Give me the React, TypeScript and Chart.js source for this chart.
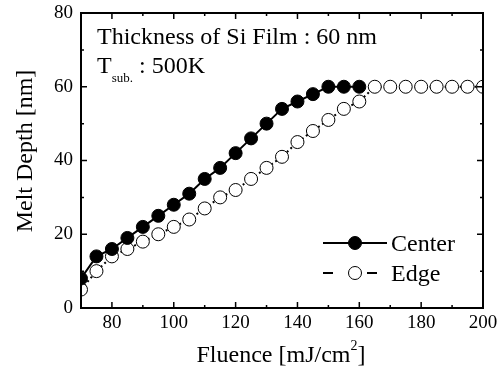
import React, { useEffect, useRef } from 'react';
import { Chart, registerables } from 'chart.js';

Chart.register(...registerables);

const fluenceCenter = [70, 75, 80, 85, 90, 95, 100, 105, 110, 115, 120, 125, 130, 135, 140, 145, 150, 155, 160];
const depthCenter = [8, 14, 16, 19, 22, 25, 28, 31, 35, 38, 42, 46, 50, 54, 56, 58, 60, 60, 60];
const fluenceEdge = [70, 75, 80, 85, 90, 95, 100, 105, 110, 115, 120, 125, 130, 135, 140, 145, 150, 155, 160, 165, 170, 175, 180, 185, 190, 195, 200];
const depthEdge = [5, 10, 14, 16, 18, 20, 22, 24, 27, 30, 32, 35, 38, 41, 45, 48, 51, 54, 56, 60, 60, 60, 60, 60, 60, 60, 60];
const xTickLabels = [80, 100, 120, 140, 160, 180, 200];
const yTickLabels = [0, 20, 40, 60, 80];
const seriesNames = ['Center', 'Edge'];
const titleLine1 = 'Thickness of Si Film : 60 nm';
const titleLine2 = ['T', 'sub.', ': 500K'];
const xTitle = ['Fluence [mJ/cm', '2', ']'];
const yTitle = 'Melt Depth [nm]';

const FONT = '"Liberation Serif", "Times New Roman", serif';

const decorPlugin = {
  id: 'decor',
  afterDraw(chart: any) {
    const ctx = chart.ctx;
    const a = chart.chartArea;
    const xs = chart.scales.x;
    const ys = chart.scales.y;
    ctx.save();
    // frame
    ctx.strokeStyle = '#000';
    ctx.lineWidth = 2;
    ctx.strokeRect(a.left, a.top, a.right - a.left, a.bottom - a.top);
    // inward ticks
    ctx.lineWidth = 1.5;
    ctx.beginPath();
    xs.ticks.forEach((t: any) => {
      const px = xs.getPixelForValue(t.value);
      const len = xTickLabels.includes(t.value) ? 6 : 3;
      ctx.moveTo(px, a.bottom);
      ctx.lineTo(px, a.bottom - len);
      ctx.moveTo(px, a.top);
      ctx.lineTo(px, a.top + len);
    });
    ys.ticks.forEach((t: any) => {
      const py = ys.getPixelForValue(t.value);
      const len = yTickLabels.includes(t.value) ? 6 : 3;
      ctx.moveTo(a.left, py);
      ctx.lineTo(a.left + len, py);
      ctx.moveTo(a.right, py);
      ctx.lineTo(a.right - len, py);
    });
    ctx.stroke();

    ctx.fillStyle = '#000';
    ctx.textBaseline = 'alphabetic';
    ctx.textAlign = 'left';
    // annotation text
    ctx.font = `24px ${FONT}`;
    ctx.fillText(titleLine1, 97, 44);
    let x = 97;
    ctx.fillText(titleLine2[0], x, 73);
    x += ctx.measureText(titleLine2[0]).width;
    ctx.font = `13px ${FONT}`;
    ctx.fillText(titleLine2[1], x, 82);
    x += ctx.measureText(titleLine2[1]).width;
    ctx.font = `24px ${FONT}`;
    x += ctx.measureText(' ').width;
    ctx.fillText(titleLine2[2], x, 73);

    // x title
    ctx.font = `24px ${FONT}`;
    const w0 = ctx.measureText(xTitle[0]).width;
    ctx.font = `14px ${FONT}`;
    const w1 = ctx.measureText(xTitle[1]).width;
    ctx.font = `24px ${FONT}`;
    const w2 = ctx.measureText(xTitle[2]).width;
    let tx = 281 - (w0 + w1 + w2) / 2;
    const ty = 362;
    ctx.fillText(xTitle[0], tx, ty);
    tx += w0;
    ctx.font = `14px ${FONT}`;
    ctx.fillText(xTitle[1], tx, ty - 12);
    tx += w1;
    ctx.font = `24px ${FONT}`;
    ctx.fillText(xTitle[2], tx, ty);

    // y title
    ctx.save();
    ctx.translate(32, 151);
    ctx.rotate(-Math.PI / 2);
    ctx.textAlign = 'center';
    ctx.fillText(yTitle, 0, 0);
    ctx.restore();

    // legend
    const ds = chart.data.datasets;
    const rows = [243, 273];
    rows.forEach((ly, i) => {
      const d = ds[i];
      ctx.strokeStyle = d.borderColor;
      ctx.lineWidth = 2;
      ctx.beginPath();
      if (i === 0) {
        ctx.moveTo(323, ly);
        ctx.lineTo(387, ly);
      } else {
        ctx.moveTo(323, ly);
        ctx.lineTo(333, ly);
        ctx.moveTo(367, ly);
        ctx.lineTo(377, ly);
      }
      ctx.stroke();
      ctx.beginPath();
      ctx.arc(355, ly, d.pointRadius, 0, Math.PI * 2);
      ctx.fillStyle = d.pointBackgroundColor;
      ctx.fill();
      ctx.lineWidth = d.pointBorderWidth;
      ctx.strokeStyle = d.pointBorderColor;
      ctx.stroke();
      ctx.fillStyle = '#000';
      ctx.font = `24px ${FONT}`;
      ctx.textAlign = 'left';
      ctx.fillText(seriesNames[i], 391, ly + 8);
    });
    ctx.restore();
  },
};

export default function App() {
  const ref = useRef<HTMLCanvasElement | null>(null);
  useEffect(() => {
    if (!ref.current) return;
    const chart = new Chart(ref.current, {
      type: 'line',
      data: {
        datasets: [
          {
            label: seriesNames[0],
            data: fluenceCenter.map((f, i) => ({ x: f, y: depthCenter[i] })),
            borderColor: '#000',
            borderWidth: 2,
            pointRadius: 6.5,
            pointBackgroundColor: '#000',
            pointBorderColor: '#000',
            pointBorderWidth: 1,
            clip: 0,
          } as any,
          {
            label: seriesNames[1],
            data: fluenceEdge.map((f, i) => ({ x: f, y: depthEdge[i] })),
            borderColor: '#000',
            borderWidth: 2,
            borderDash: [2, 3],
            pointRadius: 6.5,
            pointBackgroundColor: '#fff',
            pointBorderColor: '#000',
            pointBorderWidth: 1,
            clip: 0,
          } as any,
        ],
      },
      options: {
        animation: false,
        responsive: false,
        maintainAspectRatio: false,
        layout: { padding: { top: 13, right: 15, left: 0, bottom: 0 } },
        plugins: { legend: { display: false }, tooltip: { enabled: false } },
        scales: {
          x: {
            type: 'linear',
            min: 70,
            max: 200,
            grid: { display: false, drawTicks: false },
            border: { display: false },
            ticks: {
              stepSize: 10,
              autoSkip: false,
              maxRotation: 0,
              padding: 4,
              color: '#000',
              font: { family: FONT, size: 19 },
              callback: (v: any) => (xTickLabels.includes(v) ? String(v) : ''),
            },
            afterFit: (s: any) => {
              s.height = 63;
              s.paddingLeft = 0;
              s.paddingRight = 0;
            },
          },
          y: {
            type: 'linear',
            min: 0,
            max: 80,
            grid: { display: false, drawTicks: false },
            border: { display: false },
            ticks: {
              stepSize: 10,
              autoSkip: false,
              padding: 8,
              color: '#000',
              font: { family: FONT, size: 19 },
              callback: (v: any) => (yTickLabels.includes(v) ? String(v) : ''),
            },
            afterFit: (s: any) => {
              s.width = 81;
              s.paddingTop = 0;
              s.paddingBottom = 0;
            },
          },
        },
      },
      plugins: [decorPlugin],
    });
    return () => chart.destroy();
  }, []);
  return (
    <div style={{ position: 'fixed', left: 0, top: 0, width: 498, height: 371, background: '#fff' }}>
      <canvas ref={ref} width={498} height={371} style={{ display: 'block' }} />
    </div>
  );
}
